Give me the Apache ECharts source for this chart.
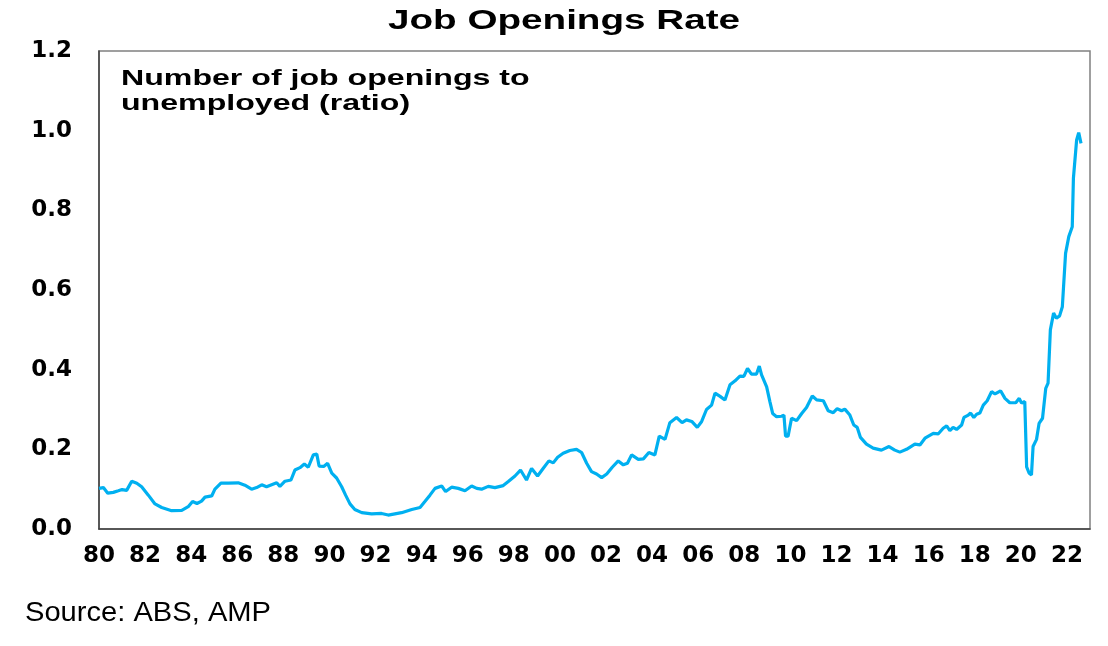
<!DOCTYPE html>
<html>
<head>
<meta charset="utf-8">
<title>Job Openings Rate</title>
<script src="https://cdn.jsdelivr.net/npm/echarts@6/dist/echarts.min.js"></script>
<style>
    html, body { margin: 0; padding: 0; background: #fff; }
    #main { width: 1108px; height: 646px; }
</style>
</head>
<body>
<div id="main"></div>
<script>
// 时间（年，小数表示年内位置）
var years = [
    1980.00, 1980.19, 1980.38, 1980.62, 1980.84, 1981.00, 1981.20, 1981.42, 1981.64, 1981.85,
    1982.14, 1982.43, 1982.72, 1983.15, 1983.59, 1983.87, 1984.06, 1984.25, 1984.45, 1984.60,
    1984.89, 1985.03, 1985.29, 1985.61, 1986.04, 1986.33, 1986.62, 1986.84, 1987.06, 1987.27,
    1987.49, 1987.71, 1987.85, 1988.07, 1988.33, 1988.50, 1988.72, 1988.91, 1989.08, 1989.30,
    1989.45, 1989.55, 1989.75, 1989.92, 1990.10, 1990.31, 1990.53, 1990.70, 1990.89, 1991.10,
    1991.40, 1991.83, 1992.26, 1992.55, 1993.13, 1993.57, 1993.93, 1994.14, 1994.36, 1994.58,
    1994.87, 1995.04, 1995.30, 1995.59, 1995.88, 1996.17, 1996.39, 1996.60, 1996.89, 1997.18,
    1997.54, 1997.76, 1998.05, 1998.29, 1998.55, 1998.77, 1999.03, 1999.27, 1999.52, 1999.71,
    1999.90, 2000.14, 2000.43, 2000.72, 2000.94, 2001.16, 2001.37, 2001.59, 2001.81, 2002.03,
    2002.27, 2002.53, 2002.75, 2002.93, 2003.11, 2003.40, 2003.62, 2003.86, 2004.12, 2004.31,
    2004.56, 2004.77, 2005.06, 2005.30, 2005.49, 2005.72, 2005.96, 2006.15, 2006.36, 2006.58,
    2006.73, 2006.95, 2007.16, 2007.38, 2007.60, 2007.81, 2007.98, 2008.14, 2008.31, 2008.53,
    2008.65, 2008.75, 2008.97, 2009.11, 2009.23, 2009.40, 2009.62, 2009.72, 2009.79, 2009.90,
    2010.05, 2010.27, 2010.49, 2010.70, 2010.95, 2011.14, 2011.43, 2011.64, 2011.86, 2012.03,
    2012.22, 2012.36, 2012.58, 2012.75, 2012.90, 2013.04, 2013.30, 2013.59, 2013.95, 2014.28,
    2014.53, 2014.75, 2015.04, 2015.40, 2015.62, 2015.84, 2016.20, 2016.42, 2016.63, 2016.78,
    2016.92, 2017.06, 2017.21, 2017.43, 2017.53, 2017.72, 2017.82, 2017.96, 2018.08, 2018.22,
    2018.37, 2018.54, 2018.73, 2018.88, 2019.12, 2019.31, 2019.52, 2019.78, 2019.93, 2020.03,
    2020.17, 2020.25, 2020.36, 2020.46, 2020.53, 2020.68, 2020.79, 2020.94, 2021.08, 2021.18,
    2021.28, 2021.42, 2021.54, 2021.68, 2021.80, 2021.94, 2022.08, 2022.23, 2022.28, 2022.36,
    2022.42, 2022.51, 2022.61
];

// 职位空缺 / 失业人数
var ratio = [
    0.102, 0.104, 0.090, 0.092, 0.096, 0.099, 0.097, 0.120, 0.115, 0.106,
    0.085, 0.063, 0.054, 0.046, 0.047, 0.056, 0.069, 0.064, 0.070, 0.080,
    0.083, 0.100, 0.115, 0.115, 0.116, 0.110, 0.100, 0.104, 0.111, 0.106,
    0.111, 0.116, 0.107, 0.120, 0.123, 0.148, 0.154, 0.163, 0.155, 0.186,
    0.188, 0.158, 0.157, 0.165, 0.140, 0.128, 0.106, 0.085, 0.063, 0.049,
    0.041, 0.038, 0.039, 0.035, 0.041, 0.049, 0.054, 0.069, 0.085, 0.102,
    0.108, 0.094, 0.105, 0.102, 0.096, 0.108, 0.102, 0.100, 0.107, 0.104,
    0.109, 0.119, 0.133, 0.148, 0.123, 0.152, 0.133, 0.152, 0.171, 0.166,
    0.180, 0.190, 0.197, 0.200, 0.192, 0.165, 0.144, 0.138, 0.129, 0.138,
    0.155, 0.171, 0.161, 0.165, 0.186, 0.175, 0.176, 0.192, 0.186, 0.233,
    0.225, 0.267, 0.280, 0.267, 0.274, 0.270, 0.255, 0.270, 0.300, 0.311,
    0.341, 0.333, 0.324, 0.362, 0.372, 0.384, 0.383, 0.403, 0.389, 0.389,
    0.409, 0.387, 0.357, 0.320, 0.290, 0.282, 0.283, 0.286, 0.233, 0.233,
    0.278, 0.272, 0.290, 0.305, 0.334, 0.324, 0.322, 0.297, 0.292, 0.302,
    0.297, 0.301, 0.286, 0.261, 0.255, 0.230, 0.213, 0.203, 0.198, 0.207,
    0.198, 0.193, 0.200, 0.213, 0.211, 0.228, 0.240, 0.239, 0.253, 0.259,
    0.247, 0.255, 0.250, 0.261, 0.280, 0.286, 0.291, 0.280, 0.288, 0.291,
    0.311, 0.322, 0.345, 0.339, 0.347, 0.328, 0.317, 0.317, 0.328, 0.316,
    0.320, 0.156, 0.140, 0.136, 0.207, 0.225, 0.265, 0.278, 0.353, 0.366,
    0.500, 0.542, 0.529, 0.535, 0.558, 0.692, 0.734, 0.759, 0.880, 0.880,
    0.977, 0.995, 0.968
];

var yTicks = [0, 0.2, 0.4, 0.6, 0.8, 1.0, 1.2];
var titleText = 'Job Openings Rate';
var noteLines = ['Number of job openings to', 'unemployed (ratio)'];
var sourceText = 'Source: ABS, AMP';

var myChart = echarts.init(document.getElementById('main'));

var points = years.map(function(y, i) {
    return [y, ratio[i]];
});

var option = {
    animation: false,
    backgroundColor: '#fff',
    grid: {
        left: 99,
        top: 51,
        right: 18,
        bottom: 117,
        show: true,
        borderColor: '#808080',
        borderWidth: 1.5,
        outerBoundsMode: 'none'
    },
    xAxis: {
        type: 'value',
        min: 1980,
        max: 2023,
        interval: 2,
        splitLine: { show: false },
        axisTick: { show: false },
        axisLine: { show: true, lineStyle: { color: '#404040', width: 1.5 } },
        axisLabel: {
            margin: 16,
            showMaxLabel: false,
            fontFamily: 'DejaVu Sans',
            fontWeight: 'bold',
            fontSize: 23,
            color: '#000',
            formatter: function(v) {
                if (v % 2 !== 0 || v > 2022) return '';
                var s = String(v % 100);
                return s.length < 2 ? '0' + s : s;
            }
        }
    },
    yAxis: {
        type: 'value',
        min: yTicks[0],
        max: yTicks[yTicks.length - 1],
        interval: 0.2,
        splitLine: { show: false },
        axisTick: { show: false },
        axisLine: { show: true, lineStyle: { color: '#404040', width: 1.5 } },
        axisLabel: {
            margin: 27,
            fontFamily: 'DejaVu Sans',
            fontWeight: 'bold',
            fontSize: 23,
            color: '#000',
            formatter: function(v) { return v.toFixed(1); }
        }
    },
    graphic: [
        {
            type: 'text', x: 564, y: 21, scaleX: 1.38,
            style: {
                text: titleText, font: 'bold 28px "Liberation Sans"', fill: '#000',
                textAlign: 'center', align: 'center', textVerticalAlign: 'middle', verticalAlign: 'middle'
            }
        },
        {
            type: 'text', x: 121, y: 79, scaleX: 1.46,
            style: {
                text: noteLines[0], font: 'bold 22px "Liberation Sans"', fill: '#000',
                textAlign: 'left', align: 'left', textVerticalAlign: 'middle', verticalAlign: 'middle'
            }
        },
        {
            type: 'text', x: 121, y: 104, scaleX: 1.46,
            style: {
                text: noteLines[1], font: 'bold 22px "Liberation Sans"', fill: '#000',
                textAlign: 'left', align: 'left', textVerticalAlign: 'middle', verticalAlign: 'middle'
            }
        },
        {
            type: 'text', x: 25, y: 613, scaleX: 1.04,
            style: {
                text: sourceText, font: '28px "Liberation Sans"', fill: '#000',
                textAlign: 'left', align: 'left', textVerticalAlign: 'middle', verticalAlign: 'middle'
            }
        }
    ],
    series: [{
        type: 'line',
        data: points,
        symbol: 'none',
        lineStyle: { color: '#00B0F0', width: 3.2 }
    }]
};

myChart.setOption(option);
</script>
</body>
</html>
